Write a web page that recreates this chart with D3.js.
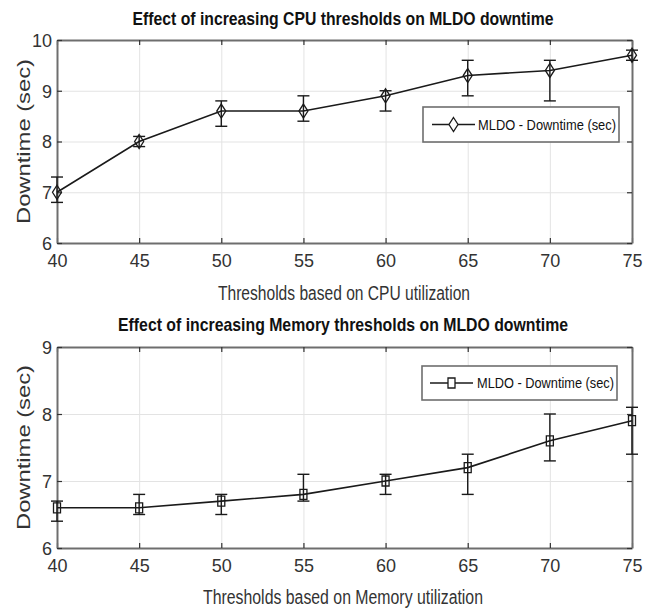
<!DOCTYPE html>
<html>
<head>
<meta charset="utf-8">
<script src="https://cdn.jsdelivr.net/npm/d3@7"></script>
<style>
  body { margin: 0; background: #fff; }
  svg { display: block; }
  .narrow { font-family: "Liberation Sans Narrow", "Arial Narrow", "Liberation Sans", Arial, sans-serif; }
</style>
</head>
<body>
<svg id="chart" width="657" height="612"></svg>
<script>
// data
var thresholds = [40, 45, 50, 55, 60, 65, 70, 75];
var cpuDowntime = [7.0, 8.0, 8.6, 8.6, 8.9, 9.3, 9.4, 9.7];
var cpuErrLow   = [6.8, 7.9, 8.3, 8.4, 8.6, 8.9, 8.8, 9.6];
var cpuErrHigh  = [7.3, 8.1, 8.8, 8.9, 9.0, 9.6, 9.6, 9.8];
var memDowntime = [6.6, 6.6, 6.7, 6.8, 7.0, 7.2, 7.6, 7.9];
var memErrLow   = [6.4, 6.5, 6.5, 6.7, 6.8, 6.8, 7.3, 7.4];
var memErrHigh  = [6.7, 6.8, 6.8, 7.1, 7.1, 7.4, 8.0, 8.1];
var cpuYTicks = [6, 7, 8, 9, 10];
var memYTicks = [6, 7, 8, 9];
var legendLabel = "MLDO - Downtime (sec)";

var svg = d3.select("#chart");

function drawPanel(cfg) {
  var x = d3.scaleLinear().domain([40, 75]).range([cfg.left, cfg.right]);
  var y = d3.scaleLinear().domain(cfg.yDomain).range([cfg.bottom, cfg.top]);
  var w = cfg.right - cfg.left, h = cfg.bottom - cfg.top;
  var g = svg.append("g");

  // grid
  g.append("g").attr("transform", "translate(0," + cfg.bottom + ")")
    .call(d3.axisBottom(x).tickValues(thresholds).tickSize(-h).tickFormat(""))
    .call(function(s){ s.select(".domain").remove(); s.selectAll("line").attr("stroke", "#e3e3e3"); });
  g.append("g").attr("transform", "translate(" + cfg.left + ",0)")
    .call(d3.axisLeft(y).tickValues(cfg.yTicks).tickSize(-w).tickFormat(""))
    .call(function(s){ s.select(".domain").remove(); s.selectAll("line").attr("stroke", "#e3e3e3"); });

  // axes with inward ticks
  var bottomAxis = g.append("g").attr("transform", "translate(0," + cfg.bottom + ")")
    .call(d3.axisBottom(x).tickValues(thresholds).tickSizeInner(-5).tickSizeOuter(0).tickPadding(11));
  var topAxis = g.append("g").attr("transform", "translate(0," + cfg.top + ")")
    .call(d3.axisTop(x).tickValues(thresholds).tickSizeInner(-5).tickSizeOuter(0).tickFormat(""));
  var leftAxis = g.append("g").attr("transform", "translate(" + cfg.left + ",0)")
    .call(d3.axisLeft(y).tickValues(cfg.yTicks).tickFormat(d3.format("d")).tickSizeInner(-5).tickSizeOuter(0).tickPadding(5));
  var rightAxis = g.append("g").attr("transform", "translate(" + cfg.right + ",0)")
    .call(d3.axisRight(y).tickValues(cfg.yTicks).tickSizeInner(-5).tickSizeOuter(0).tickFormat(""));
  [bottomAxis, topAxis, leftAxis, rightAxis].forEach(function(a){
    a.select(".domain").attr("stroke", "#6e6e6e").attr("stroke-width", 2);
    a.selectAll(".tick line").attr("stroke", "#333").attr("stroke-width", 1.2);
    a.selectAll("text").attr("class", "narrow").attr("font-size", 18).attr("fill", "#333");
  });
  leftAxis.selectAll("text").attr("dy", "0.36em");

  // series line
  var pts = thresholds.map(function(t, i){ return {t: t, v: cfg.values[i], lo: cfg.lo[i], hi: cfg.hi[i]}; });
  var line = d3.line().x(function(d){ return x(d.t); }).y(function(d){ return y(d.v); });
  g.append("path").datum(pts).attr("d", line)
    .attr("fill", "none").attr("stroke", "#1a1a1a").attr("stroke-width", 1.6);

  // error bars
  var eb = g.selectAll(".eb").data(pts).enter().append("g").attr("class", "eb")
    .attr("stroke", "#1a1a1a").attr("stroke-width", 1.4);
  eb.append("line").attr("x1", function(d){ return x(d.t); }).attr("x2", function(d){ return x(d.t); })
    .attr("y1", function(d){ return y(d.lo); }).attr("y2", function(d){ return y(d.hi); });
  eb.append("line").attr("x1", function(d){ return x(d.t) - 6; }).attr("x2", function(d){ return x(d.t) + 6; })
    .attr("y1", function(d){ return y(d.lo); }).attr("y2", function(d){ return y(d.lo); });
  eb.append("line").attr("x1", function(d){ return x(d.t) - 6; }).attr("x2", function(d){ return x(d.t) + 6; })
    .attr("y1", function(d){ return y(d.hi); }).attr("y2", function(d){ return y(d.hi); });

  // markers
  g.selectAll(".mk").data(pts).enter().append("path").attr("class", "mk")
    .attr("d", function(d){ return cfg.marker(x(d.t), y(d.v)); })
    .attr("fill", "none").attr("stroke", "#1a1a1a").attr("stroke-width", 1.3);

  // titles
  svg.append("text").attr("class", "narrow").attr("x", cfg.titleX).attr("y", cfg.titleY)
    .attr("text-anchor", "middle").attr("font-weight", "bold").attr("font-size", 19)
    .attr("textLength", cfg.titleW).attr("lengthAdjust", "spacingAndGlyphs")
    .attr("fill", "#111").text(cfg.title);
  svg.append("text").attr("class", "narrow").attr("x", cfg.xLabelX).attr("y", cfg.xLabelY)
    .attr("text-anchor", "middle").attr("font-size", 20)
    .attr("textLength", cfg.xLabelW).attr("lengthAdjust", "spacingAndGlyphs")
    .attr("fill", "#333").text(cfg.xLabel);
  svg.append("text").attr("transform", "translate(" + cfg.yLabelX + "," + ((cfg.top + cfg.bottom) / 2) + ") rotate(-90)")
    .attr("text-anchor", "middle").attr("font-family", "Liberation Sans, Arial, sans-serif").attr("font-size", 19)
    .attr("textLength", 165).attr("lengthAdjust", "spacingAndGlyphs")
    .attr("fill", "#333").text("Downtime  (sec)");

  // legend
  var L = cfg.legend;
  var lg = svg.append("g");
  lg.append("rect").attr("x", L.x0).attr("y", L.y0).attr("width", L.x1 - L.x0).attr("height", L.y1 - L.y0)
    .attr("fill", "#fff").attr("stroke", "#6e6e6e").attr("stroke-width", 1.6);
  var cy = (L.y0 + L.y1) / 2;
  lg.append("line").attr("x1", L.lineX0).attr("x2", L.lineX1).attr("y1", cy).attr("y2", cy)
    .attr("stroke", "#1a1a1a").attr("stroke-width", 1.6);
  lg.append("path").attr("d", cfg.marker((L.lineX0 + L.lineX1) / 2, cy))
    .attr("fill", "#fff").attr("stroke", "#1a1a1a").attr("stroke-width", 1.3);
  lg.append("text").attr("class", "narrow").attr("x", L.textX).attr("y", cy).attr("dy", "0.36em")
    .attr("font-size", 15).attr("textLength", L.textW).attr("lengthAdjust", "spacingAndGlyphs")
    .attr("fill", "#111").text(legendLabel);
}

function diamond(cx, cy) {
  return "M" + cx + "," + (cy - 7) + "L" + (cx + 4.5) + "," + cy + "L" + cx + "," + (cy + 7) + "L" + (cx - 4.5) + "," + cy + "Z";
}
function square(cx, cy) {
  return "M" + (cx - 3.5) + "," + (cy - 5) + "h7v10h-7Z";
}

drawPanel({
  left: 57, right: 632, top: 40, bottom: 243, yDomain: [6, 10], yTicks: cpuYTicks,
  values: cpuDowntime, lo: cpuErrLow, hi: cpuErrHigh, marker: diamond,
  title: "Effect of increasing CPU thresholds on MLDO downtime", titleX: 343, titleY: 25, titleW: 421,
  xLabel: "Thresholds based on CPU utilization", xLabelX: 344, xLabelY: 300, xLabelW: 252,
  yLabelX: 30,
  legend: {x0: 423, x1: 619, y0: 107, y1: 142, lineX0: 432, lineX1: 475, textX: 478, textW: 138}
});

drawPanel({
  left: 57, right: 632, top: 347, bottom: 548, yDomain: [6, 9], yTicks: memYTicks,
  values: memDowntime, lo: memErrLow, hi: memErrHigh, marker: square,
  title: "Effect of increasing Memory thresholds on MLDO downtime", titleX: 343, titleY: 331, titleW: 450,
  xLabel: "Thresholds based on Memory utilization", xLabelX: 343, xLabelY: 604, xLabelW: 280,
  yLabelX: 30,
  legend: {x0: 422, x1: 617, y0: 366, y1: 400, lineX0: 430, lineX1: 473, textX: 477, textW: 137}
});
</script>
</body>
</html>
